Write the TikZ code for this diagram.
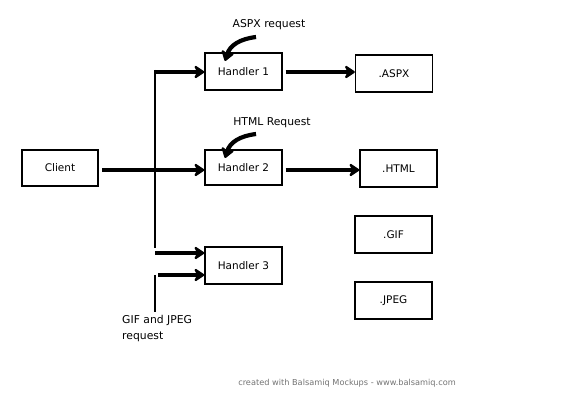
\documentclass[tikz,border=0pt]{standalone}
\usepackage{fontspec}
\setmainfont{DejaVu Sans}
\usetikzlibrary{arrows.meta}
\begin{document}
\begin{tikzpicture}[x=1pt,y=-1pt,
  box/.style={draw,line width=1.3pt,minimum width=77pt,minimum height=37pt,inner sep=0pt,font=\fontsize{10.5}{12}\selectfont},
  fat/.style={line width=4.2pt,-{Stealth[length=12pt,width=16pt,round]}},
  thin/.style={line width=1.2pt},
  lbl/.style={font=\fontsize{10.8}{12}\selectfont,inner sep=0pt}]
\useasboundingbox (0,0) rectangle (576,403);
\fill[white] (0,0) rectangle (576,403);
\node[box,minimum width=76pt,minimum height=36pt] (client) at (60,168) {Client};
\node[box] (h1) at (243.5,71.5) {Handler 1};
\node[box] (aspx) at (394,73.5) {.ASPX};
\node[box,minimum height=35pt] (h2) at (243.5,167.5) {Handler 2};
\node[box] (html) at (398.5,168.5) {.HTML};
\node[box] (h3) at (243.5,265.5) {Handler 3};
\node[box] (gif) at (393.5,234.5) {.GIF};
\node[box] (jpeg) at (393.5,300.5) {.JPEG};
\node[lbl] (la) at (269,25) {ASPX request};
\node[lbl] (lh) at (272,123) {HTML Request};
\node[lbl,anchor=north west,align=left,font=\fontsize{10.8}{16}\selectfont] (lg) at (122,315) {GIF and JPEG\\request};
\node[lbl,text=black!55,font=\fontsize{8.2}{9}\selectfont] (foot) at (347,383) {created with Balsamiq Mockups - www.balsamiq.com};
\coordinate (vt) at (155,70);
\coordinate (vb) at (155,248);
\coordinate (v1) at (155,72);
\coordinate (v3) at (155,253);
\coordinate (g1) at (158,275);
\coordinate (g0) at (155,275);
\coordinate (gb) at (155,312);
\coordinate (c1) at (102,170);
\coordinate (a1s) at (256,37);
\coordinate (a1e) at (225,61);
\coordinate (a2s) at (256,134);
\coordinate (a2e) at (225,158);
\draw[thin] (vt) -- (vb);
\draw[thin] (g0) -- (gb);
\draw[fat] (c1) -- (h2.west |- c1);
\draw[fat] (v1) -- (h1.west |- v1);
\draw[fat] (v3) -- (h3.west |- v3);
\draw[fat] (g1) -- (h3.west |- g1);
\draw[fat] ([xshift=3pt,yshift=-0.5pt]h1.east) -- (aspx.west |- 0,72);
\draw[fat] ([xshift=3pt,yshift=-2.5pt]h2.east) -- (html.west |- 0,170);
\draw[fat] (a1s) .. controls (240,39) and (230,45) .. (a1e);
\draw[fat] (a2s) .. controls (240,136) and (230,142) .. (a2e);
\end{tikzpicture}
\end{document}
